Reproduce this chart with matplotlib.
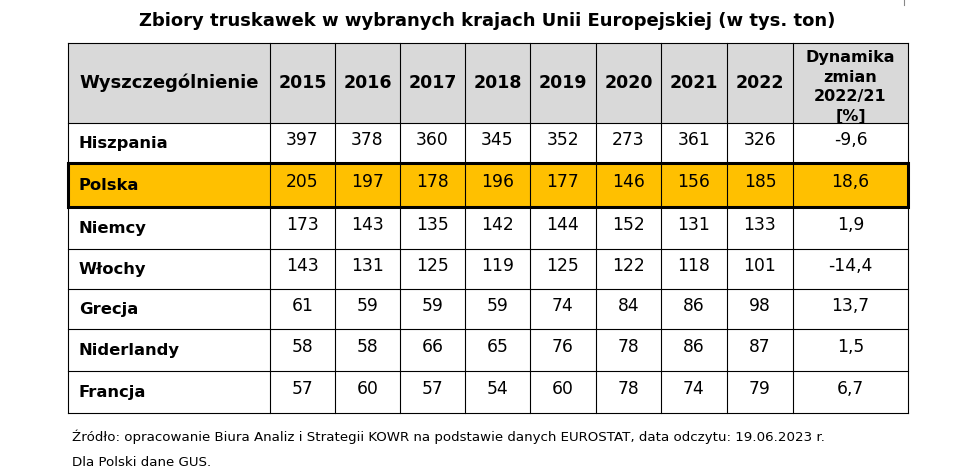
import numpy as np
import matplotlib
matplotlib.use('Agg')
import matplotlib.pyplot as plt
from matplotlib.patches import Rectangle

# Dane
kraje = ['Hiszpania', 'Polska', 'Niemcy', 'Włochy', 'Grecja', 'Niderlandy', 'Francja']
lata = ['2015', '2016', '2017', '2018', '2019', '2020', '2021', '2022']
hiszpania = [397, 378, 360, 345, 352, 273, 361, 326]
polska = [205, 197, 178, 196, 177, 146, 156, 185]
niemcy = [173, 143, 135, 142, 144, 152, 131, 133]
wlochy = [143, 131, 125, 119, 125, 122, 118, 101]
grecja = [61, 59, 59, 59, 74, 84, 86, 98]
niderlandy = [58, 58, 66, 65, 76, 78, 86, 87]
francja = [57, 60, 57, 54, 60, 78, 74, 79]
dynamika = ['-9,6', '18,6', '1,9', '-14,4', '13,7', '1,5', '6,7']

wartosci = [hiszpania, polska, niemcy, wlochy, grecja, niderlandy, francja]

tytul = 'Zbiory truskawek w wybranych krajach Unii Europejskiej (w tys. ton)'
zrodlo = 'Źródło: opracowanie Biura Analiz i Strategii KOWR na podstawie danych EUROSTAT, data odczytu: 19.06.2023 r.'
zrodlo2 = 'Dla Polski dane GUS.'

# Uklad tabeli (w pikselach)
W, H = 962, 477
col_x = [68, 270, 335, 400, 465, 530, 596, 661, 727, 793, 908]
row_y = [44, 124, 164, 208, 250, 290, 330, 372, 414]

fig = plt.figure(figsize=(W / 100, H / 100), dpi=100)
ax = fig.add_axes([0, 0, 1, 1])
ax.set_xlim(0, W)
ax.set_ylim(H, 0)
ax.axis('off')

# tlo naglowka
ax.add_patch(Rectangle((col_x[0], row_y[0]), col_x[-1] - col_x[0], row_y[1] - row_y[0],
                       facecolor='#d9d9d9', edgecolor='none'))
# tlo Polski
ax.add_patch(Rectangle((col_x[0], row_y[2]), col_x[-1] - col_x[0], row_y[3] - row_y[2],
                       facecolor='#ffc000', edgecolor='none'))

# linie siatki
for x in col_x:
    ax.plot([x, x], [row_y[0], row_y[-1]], color='black', lw=0.8)
for y in row_y:
    ax.plot([col_x[0], col_x[-1]], [y, y], color='black', lw=0.8)

# gruba ramka wokol Polski
ax.add_patch(Rectangle((col_x[0], row_y[2]), col_x[-1] - col_x[0], row_y[3] - row_y[2],
                       facecolor='none', edgecolor='black', lw=2.2, zorder=5))

# tytul
ax.text(W / 2 + 6, 21, tytul, ha='center', va='center', fontsize=13, fontweight='bold')

# naglowek
hy = (row_y[0] + row_y[1]) / 2 - 1
ax.text(col_x[0] + 11, hy, 'Wyszczególnienie', ha='left', va='center',
        fontsize=13, fontweight='bold')
for i, rok in enumerate(lata):
    xc = (col_x[i + 1] + col_x[i + 2]) / 2
    ax.text(xc, hy, rok, ha='center', va='center', fontsize=12.5, fontweight='bold')
ax.text((col_x[-2] + col_x[-1]) / 2, (row_y[0] + row_y[1]) / 2 + 3,
        'Dynamika\nzmian\n2022/21\n[%]', ha='center', va='center',
        fontsize=11.5, fontweight='bold', linespacing=1.38)

# wiersze
for r, (kraj, vals) in enumerate(zip(kraje, wartosci)):
    yc = (row_y[r + 1] + row_y[r + 2]) / 2
    ax.text(col_x[0] + 11, yc, kraj, ha='left', va='center', fontsize=11.8, fontweight='bold')
    for i, v in enumerate(vals):
        xc = (col_x[i + 1] + col_x[i + 2]) / 2
        ax.text(xc, yc - 4, str(v), ha='center', va='center', fontsize=12.3)
    ax.text((col_x[-2] + col_x[-1]) / 2, yc - 4, dynamika[r], ha='center', va='center',
            fontsize=12.3)

# zrodlo
ax.text(72, 437, zrodlo, ha='left', va='center', fontsize=9.6)
ax.text(72, 463, zrodlo2, ha='left', va='center', fontsize=9.6)

# drobna kreska w prawym gornym rogu
ax.plot([904, 904], [0, 6], color='#888888', lw=0.8)

fig.savefig('out.png', dpi=100)
